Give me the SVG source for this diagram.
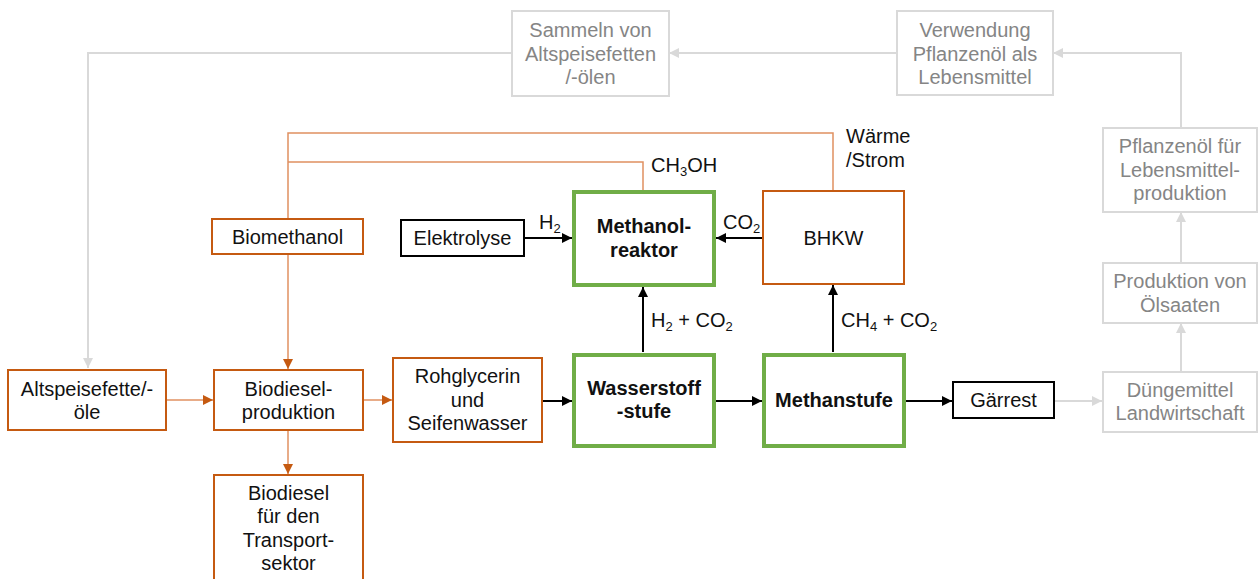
<svg xmlns="http://www.w3.org/2000/svg" width="1258" height="579" viewBox="0 0 1258 579">
<style>
text{font-family:"Liberation Sans",Arial,sans-serif;font-size:20px;text-anchor:middle;fill:#111}
.g text,text.g{fill:#858585}
.b{font-weight:bold}
.l{text-anchor:start}
.sub{font-size:13px}
.bo{fill:#fff;stroke:#C55A11;stroke-width:2}
.bg{fill:#fff;stroke:#70AD47;stroke-width:4}
.bk{fill:#fff;stroke:#000;stroke-width:2}
.bgr{fill:#fff;stroke:#D9D9D9;stroke-width:2}
.co{fill:none;stroke:#E09060;stroke-width:1.5}
.ck{fill:none;stroke:#000;stroke-width:2}
.cg{fill:none;stroke:#D9D9D9;stroke-width:2}
</style>
<defs>
<marker id="ao" markerUnits="userSpaceOnUse" markerWidth="12" markerHeight="12" refX="10" refY="5" orient="auto"><path d="M0,0 L10,5 L0,10 Z" fill="#C55A11"/></marker>
<marker id="ak" markerUnits="userSpaceOnUse" markerWidth="12" markerHeight="12" refX="10" refY="5" orient="auto"><path d="M0,0 L10,5 L0,10 Z" fill="#000"/></marker>
<marker id="ag" markerUnits="userSpaceOnUse" markerWidth="12" markerHeight="12" refX="10" refY="5" orient="auto"><path d="M0,0 L10,5 L0,10 Z" fill="#D9D9D9"/></marker>
</defs>
<g id="connectors">
<path class="cg" d="M897,53 H669" marker-end="url(#ag)"/>
<path class="cg" d="M512,53 H88 V368" marker-end="url(#ag)"/>
<path class="cg" d="M1181,128 V53 H1053" marker-end="url(#ag)"/>
<path class="cg" d="M1181,263 V212" marker-end="url(#ag)"/>
<path class="cg" d="M1181,372 V323" marker-end="url(#ag)"/>
<path class="cg" d="M1054,401 H1102" marker-end="url(#ag)"/>
<path class="co" d="M288,219 V133 H833 V191"/>
<path class="co" d="M288,162 H643 V191"/>
<path class="co" d="M288,254 V369" marker-end="url(#ao)"/>
<path class="co" d="M166,400 H213" marker-end="url(#ao)"/>
<path class="co" d="M363,400 H392" marker-end="url(#ao)"/>
<path class="co" d="M288,430 V474" marker-end="url(#ao)"/>
<path class="ck" d="M524,238 H572" marker-end="url(#ak)"/>
<path class="ck" d="M763,238 H716" marker-end="url(#ak)"/>
<path class="ck" d="M643,352 V287" marker-end="url(#ak)"/>
<path class="ck" d="M833,352 V285" marker-end="url(#ak)"/>
<path class="ck" d="M542,401 H572" marker-end="url(#ak)"/>
<path class="ck" d="M715,401 H762" marker-end="url(#ak)"/>
<path class="ck" d="M906,401 H952" marker-end="url(#ak)"/>
<text class="l" x="539" y="229">H<tspan class="sub" dy="4">2</tspan></text>
<text class="l" x="723" y="229">CO<tspan class="sub" dy="4">2</tspan></text>
<text class="l" x="651" y="172">CH<tspan class="sub" dy="4">3</tspan><tspan dy="-4">OH</tspan></text>
<text class="l" x="651" y="327">H<tspan class="sub" dy="4">2</tspan><tspan dy="-4"> + CO</tspan><tspan class="sub" dy="4">2</tspan></text>
<text class="l" x="841" y="327">CH<tspan class="sub" dy="4">4</tspan><tspan dy="-4"> + CO</tspan><tspan class="sub" dy="4">2</tspan></text>
<text class="l" x="846" y="143">Wärme</text>
<text class="l" x="846" y="167">/Strom</text>
</g>
<g id="sammeln" class="g"><rect class="bgr" x="512" y="11" width="157" height="85"/><text x="590.5" y="37">Sammeln von</text><text x="590.5" y="61">Altspeisefetten</text><text x="590.5" y="84">/-ölen</text></g>
<g id="verwendung" class="g"><rect class="bgr" x="897" y="11" width="156" height="84"/><text x="975" y="37">Verwendung</text><text x="975" y="61">Pflanzenöl als</text><text x="975" y="84">Lebensmittel</text></g>
<g id="pflanzenoel" class="g"><rect class="bgr" x="1103" y="128" width="154" height="84"/><text x="1180" y="153">Pflanzenöl für</text><text x="1180" y="177">Lebensmittel-</text><text x="1180" y="200">produktion</text></g>
<g id="oelsaaten" class="g"><rect class="bgr" x="1103" y="263" width="154" height="60"/><text x="1180" y="288">Produktion von</text><text x="1180" y="312">Ölsaaten</text></g>
<g id="duengemittel" class="g"><rect class="bgr" x="1103" y="372" width="154" height="60"/><text x="1180" y="397">Düngemittel</text><text x="1180" y="420">Landwirtschaft</text></g>
<g id="biomethanol"><rect class="bo" x="212" y="219" width="151" height="35"/><text x="287.5" y="244">Biomethanol</text></g>
<g id="altspeisefette"><rect class="bo" x="8" y="370" width="158" height="60"/><text x="87" y="396">Altspeisefette/-</text><text x="87" y="419">öle</text></g>
<g id="biodieselproduktion"><rect class="bo" x="214" y="370" width="149" height="60"/><text x="288.5" y="396">Biodiesel-</text><text x="288.5" y="419">produktion</text></g>
<g id="biodieseltransport"><rect class="bo" x="214" y="475" width="149" height="110"/><text x="288.5" y="500">Biodiesel</text><text x="288.5" y="523">für den</text><text x="288.5" y="547">Transport-</text><text x="288.5" y="570">sektor</text></g>
<g id="rohglycerin"><rect class="bo" x="393" y="358" width="149" height="84"/><text x="467.5" y="383">Rohglycerin</text><text x="467.5" y="407">und</text><text x="467.5" y="430">Seifenwasser</text></g>
<g id="bhkw"><rect class="bo" x="763" y="191" width="141" height="93"/><text x="833.5" y="245">BHKW</text></g>
<g id="elektrolyse"><rect class="bk" x="401" y="220" width="123" height="36"/><text x="462.5" y="245">Elektrolyse</text></g>
<g id="gaerrest"><rect class="bk" x="953" y="382" width="101" height="36"/><text x="1003.5" y="407">Gärrest</text></g>
<g id="methanolreaktor"><rect class="bg" x="574" y="192" width="140" height="93"/><text class="b" x="644" y="233">Methanol-</text><text class="b" x="644" y="257">reaktor</text></g>
<g id="wasserstoffstufe"><rect class="bg" x="574" y="355" width="140" height="91"/><text class="b" x="644" y="395">Wasserstoff</text><text class="b" x="644" y="418">-stufe</text></g>
<g id="methanstufe"><rect class="bg" x="764" y="355" width="140" height="91"/><text class="b" x="834" y="407">Methanstufe</text></g>
</svg>
